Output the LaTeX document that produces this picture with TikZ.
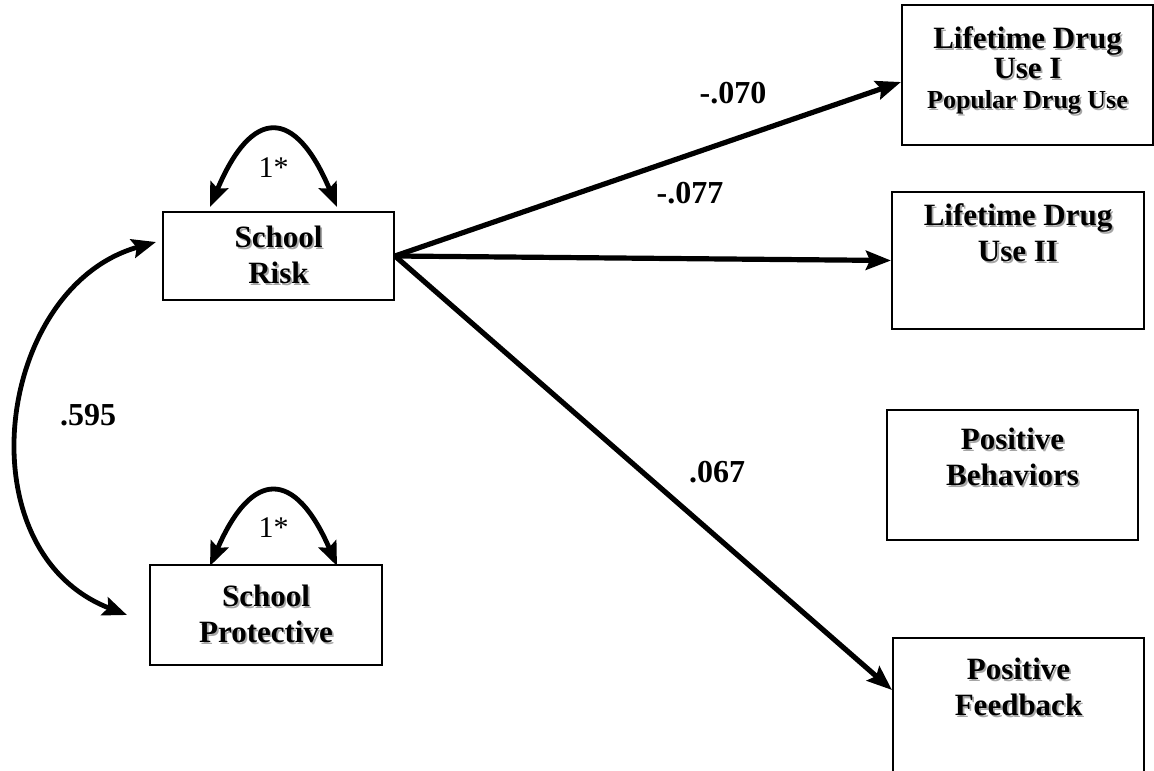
\documentclass[tikz,border=0pt]{standalone}
\usepackage{fontspec}
\setmainfont{Liberation Serif}
\usetikzlibrary{arrows.meta,positioning}

\newcommand{\shd}[1]{\leavevmode\rlap{\kern0.9pt\raisebox{-0.9pt}{\color{black!35}#1}}#1}

\begin{document}
\begin{tikzpicture}[x=0.5pt,y=-0.5pt,
	varbox/.style={draw, line width=1pt, align=center, inner sep=0pt,
		font=\fontsize{15.5}{18}\selectfont\bfseries},
	effect/.style={line width=2.6pt, -{Stealth[length=12.5pt,width=9.5pt,inset=2pt]}},
	cov/.style={line width=2.4pt, {Stealth[length=12pt,width=9.5pt,inset=2pt]}-{Stealth[length=12pt,width=9.5pt,inset=2pt]}},
	coef/.style={inner sep=0pt, font=\fontsize{16}{18}\selectfont\bfseries},
	unit/.style={inner sep=0pt, font=\fontsize{15}{17}\selectfont}]
		\path[use as bounding box, clip] (0,0) rectangle (1154,770);
		% predictors
		\node[varbox, minimum width=115.5pt, minimum height=44pt] (risk) at (278.5,256) {\shd{School}\\\shd{Risk}};
		\node[varbox, minimum width=116pt, minimum height=50pt] (prot) at (266,615) {\shd{School}\\\shd{Protective}};
		% outcomes
		\node[varbox, minimum width=125.5pt, minimum height=70pt, font=\fontsize{15.5}{15}\selectfont\bfseries] (drugI) at (1027.5,75) {\shd{Lifetime Drug}\\\shd{Use I}\\{\fontsize{13}{15}\selectfont\shd{Popular Drug Use}}\\[-8pt]\mbox{}};
		\node[varbox, minimum width=126pt, minimum height=68.5pt] (drugII) at (1018,260.5) {\shd{Lifetime Drug}\\\shd{Use II}\\[10pt]\mbox{}};
		\node[varbox, minimum width=125.5pt, minimum height=65pt] (behav) at (1012.5,475) {\shd{Positive}\\\shd{Behaviors}\\\mbox{}};
		\node[varbox, minimum width=125.5pt, minimum height=67pt] (feedb) at (1018.5,705) {\shd{Positive}\\\shd{Feedback}\\\mbox{}};
		% paths
		\draw[effect] (risk.east) -- ([yshift=-3.5pt]drugI.west);
		\draw[effect] (risk.east) -- (drugII.west);
		\draw[effect] (risk.east) -- ([yshift=7.5pt]feedb.west);
		% variances and covariance
		\draw[cov] ([xshift=-34.25pt,yshift=2pt]risk.north) .. controls +(42,-100) and +(-42,-100) .. ([xshift=29.25pt,yshift=2pt]risk.north) node[unit, midway, yshift=-18pt] (riskvar) {1*};
		\draw[cov] ([xshift=-28pt,yshift=-1pt]prot.north) .. controls +(42,-97) and +(-42,-97) .. ([xshift=35.5pt,yshift=-1pt]prot.north) node[unit, midway, yshift=-17pt] (protvar) {1*};
		\draw[cov] ([xshift=-3pt,yshift=7pt]risk.west) .. controls +(-160,45) and +(-165,-64) .. ([xshift=-11pt]prot.west);
		% coefficients
		\node[coef] (bdrugI) at (733,93) {-.070};
		\node[coef] (bdrugII) at (690,193) {-.077};
		\node[coef] (bfeedb) at (717,472) {.067};
		\node[coef] (rcov) at (88,415) {.595};
\end{tikzpicture}
\end{document}
